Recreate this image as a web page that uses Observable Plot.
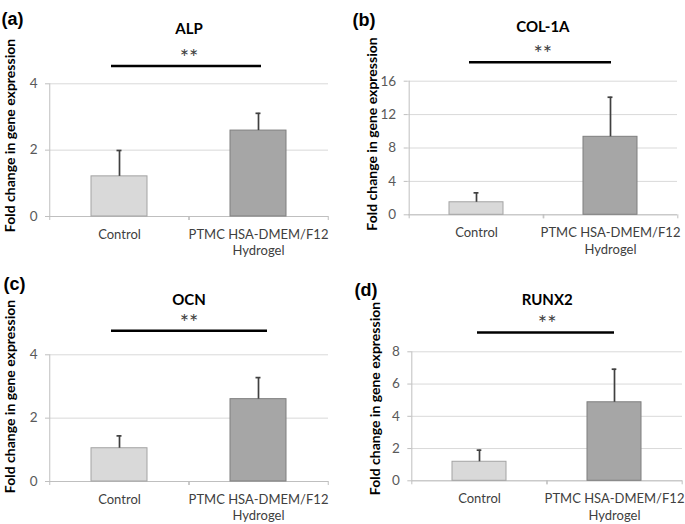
<!DOCTYPE html>
<html><head><meta charset="utf-8">
<script src="https://cdn.jsdelivr.net/npm/d3@7"></script>
<script src="https://cdn.jsdelivr.net/npm/@observablehq/plot@0.6"></script>
<style>
body{margin:0;background:#fff;}
#chart{position:relative;width:685px;height:524px;background:#fff;}
.panel{position:absolute;}
</style></head><body><div id="chart"></div>
<script>
// ---- data ----
const categories = ["Control", "PTMC HSA-DMEM/F12\nHydrogel"];
const panelLetters = ["(a)", "(b)", "(c)", "(d)"];
const genes = ["ALP", "COL-1A", "OCN", "RUNX2"];
const controlMean = [1.21, 1.50, 1.05, 1.18];
const controlErr = [0.78, 1.13, 0.39, 0.72];
const hydrogelMean = [2.59, 9.34, 2.60, 4.87];
const hydrogelErr = [0.52, 4.74, 0.68, 2.05];
const yMax = [4, 16, 4, 8];
const yTicks = [[0, 2, 4], [0, 4, 8, 12, 16], [0, 2, 4], [0, 2, 4, 6, 8]];
const sigLevel = [4.54, 18.28, 4.76, 9.2];
const sigText = ["**", "**", "**", "**"];
const yLabel = "Fold change in gene expression";

// ---- layout (pixels) ----
const layout = [
  {left: 0, top: 0, width: 342, ml: 49, mr: 14, mt: 83.3, mb: 46, letterX: 1, letterY: 12, titleY: 23, labelX: 10, labelY: 135, sigL: 20, sigR: 25},
  {left: 342, top: 0, width: 343, ml: 65.7, mr: 8, mt: 80.7, mb: 47.7, letterX: 10, letterY: 13, titleY: 20.7, labelX: 30, labelY: 133.5, sigL: 20, sigR: 26},
  {left: 0, top: 262, width: 342, ml: 49, mr: 14, mt: 92.3, mb: 43, letterX: 3, letterY: 15, titleY: 31.7, labelX: 10, labelY: 134, sigL: 20, sigR: 19},
  {left: 342, top: 262, width: 343, ml: 69.3, mr: 3, mt: 89.3, mb: 43.7, letterX: 12, letterY: 20.7, titleY: 31.7, labelX: 33, labelY: 136, sigL: 25, sigR: 27}
];
const fills = ["#d9d9d9", "#a6a6a6"];
const strokes = ["#a3a3a3", "#7f7f7f"];
const H = 262;
const chart = document.getElementById("chart");

layout.forEach((L, p) => {
  const rows = categories.map((c, i) => ({
    cat: c,
    mean: i === 0 ? controlMean[p] : hydrogelMean[p],
    err: i === 0 ? controlErr[p] : hydrogelErr[p]
  }));
  const fw = L.width - L.ml - L.mr;
  const fh = H - L.mt - L.mb;
  const step = fw / 2;
  const bw = step * 0.4;
  const capInset = bw / 2 - 2.4;
  const svg = Plot.plot({
    width: L.width, height: H,
    marginLeft: L.ml, marginRight: L.mr, marginTop: L.mt, marginBottom: L.mb,
    style: {fontFamily: "Lato, sans-serif", fontSize: "13px", color: "#595959", background: "white", overflow: "visible"},
    x: {domain: categories, paddingInner: 0.6, paddingOuter: 0.3, label: null},
    y: {domain: [0, yMax[p]], label: null},
    marks: [
      Plot.gridY(yTicks[p], {stroke: "#d9d9d9", strokeOpacity: 1}),
      Plot.axisY(yTicks[p], {tickSize: 4, tickPadding: 8, stroke: "#bfbfbf", fill: "#595959", fontSize: 13.5, label: null}),
      Plot.ruleX([categories[0]], {dx: -step / 2, y1: 0, y2: yMax[p], stroke: "#bfbfbf"}),
      Plot.ruleY([0], {stroke: "#bfbfbf"}),
      Plot.axisX({tickSize: 4, tickFormat: () => "", dx: -step / 2, stroke: "#bfbfbf", label: null}),
      Plot.axisX({tickSize: 4, tickFormat: () => "", dx: step / 2, stroke: "#bfbfbf", label: null}),
      Plot.barY([rows[0]], {x: "cat", y: "mean", fill: fills[0], stroke: strokes[0], strokeWidth: 1}),
      Plot.barY([rows[1]], {x: "cat", y: "mean", fill: fills[1], stroke: strokes[1], strokeWidth: 1}),
      Plot.ruleX(rows, {x: "cat", y1: "mean", y2: d => d.mean + d.err, stroke: "#404040", strokeWidth: 1.7}),
      Plot.tickY(rows, {x: "cat", y: d => d.mean + d.err, stroke: "#404040", strokeWidth: 1.7, insetLeft: capInset, insetRight: capInset}),
      Plot.text(categories, {x: d => d, text: d => d, frameAnchor: "bottom", lineAnchor: "top", dy: 11, lineHeight: 1.25, fill: "#404040", fontSize: 13}),
      Plot.ruleY([sigLevel[p]], {x1: () => categories[0], x2: () => categories[1], insetLeft: L.sigL, insetRight: L.sigR, stroke: "black", strokeWidth: 2.5}),
      Plot.text([sigLevel[p]], {y: d => d, text: () => sigText[p], dy: -8, fontSize: 22, fill: "#404040"}),
      Plot.text([genes[p]], {text: d => d, frameAnchor: "top", dy: L.titleY - L.mt, fontWeight: "bold", fontSize: 15, fill: "black"}),
      Plot.text([panelLetters[p]], {text: d => d, frameAnchor: "top-left", textAnchor: "start", dx: L.letterX - L.ml, dy: L.letterY - L.mt, fontFamily: "'Liberation Sans', Arial, sans-serif", fontWeight: "bold", fontSize: 18, fill: "black"}),
      Plot.text([yLabel], {text: d => d, frameAnchor: "left", textAnchor: "middle", rotate: -90, dx: L.labelX - L.ml, dy: L.labelY - (L.mt + fh / 2), fontWeight: "bold", fontSize: 14, fill: "black"})
    ]
  });
  const div = document.createElement("div");
  div.className = "panel";
  div.style.left = L.left + "px";
  div.style.top = L.top + "px";
  div.appendChild(svg);
  chart.appendChild(div);
});
</script>
</body></html>
